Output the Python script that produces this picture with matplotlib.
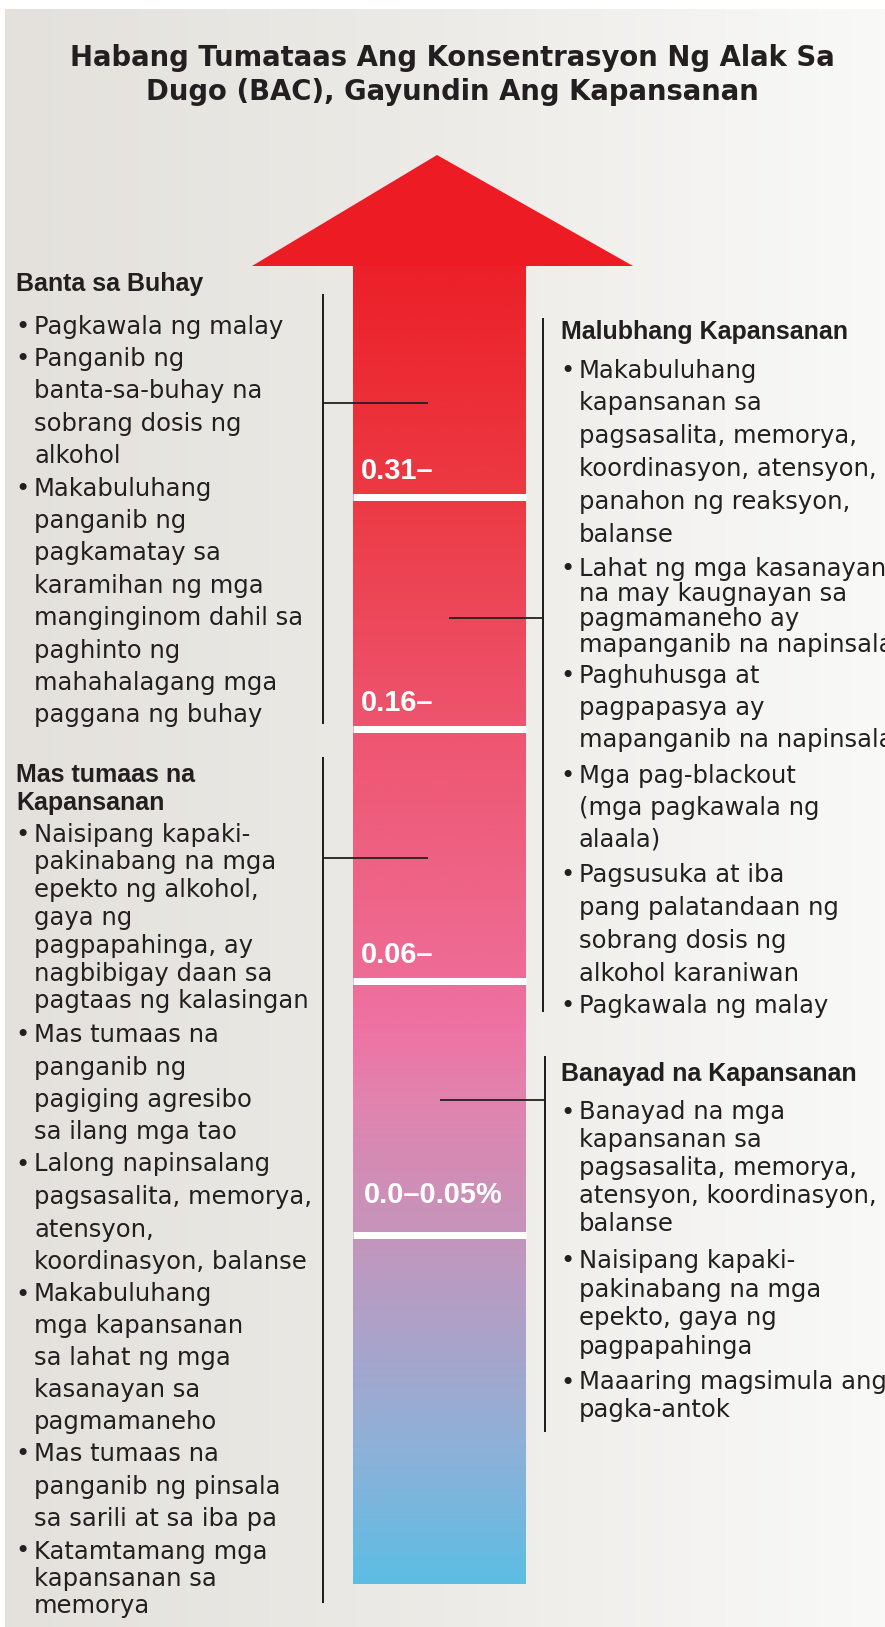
import numpy as np
import matplotlib
matplotlib.use("Agg")
import matplotlib.pyplot as plt
from matplotlib.colors import LinearSegmentedColormap
from matplotlib.patches import Polygon

# ---------------- data ----------------
TITLE = ["Habang Tumataas Ang Konsentrasyon Ng Alak Sa",
         "Dugo (BAC), Gayundin Ang Kapansanan"]

BAC_LABELS = ["0.31–", "0.16–", "0.06–", "0.0–0.05%"]

LIFE_HEADING = ["Banta sa Buhay"]
LIFE_BULLETS = [
    ["Pagkawala ng malay"],
    ["Panganib ng", "banta-sa-buhay na", "sobrang dosis ng", "alkohol"],
    ["Makabuluhang", "panganib ng", "pagkamatay sa", "karamihan ng mga",
     "manginginom dahil sa", "paghinto ng", "mahahalagang mga",
     "paggana ng buhay"],
]

HIGHER_HEADING = ["Mas tumaas na", "Kapansanan"]
HIGHER_BULLETS = [
    ["Naisipang kapaki-", "pakinabang na mga", "epekto ng alkohol,",
     "gaya ng", "pagpapahinga, ay", "nagbibigay daan sa",
     "pagtaas ng kalasingan"],
    ["Mas tumaas na", "panganib ng", "pagiging agresibo", "sa ilang mga tao"],
    ["Lalong napinsalang", "pagsasalita, memorya,", "atensyon,",
     "koordinasyon, balanse"],
    ["Makabuluhang", "mga kapansanan", "sa lahat ng mga", "kasanayan sa",
     "pagmamaneho"],
    ["Mas tumaas na", "panganib ng pinsala", "sa sarili at sa iba pa"],
    ["Katamtamang mga", "kapansanan sa", "memorya"],
]

SEVERE_HEADING = ["Malubhang Kapansanan"]
SEVERE_BULLETS = [
    ["Makabuluhang", "kapansanan sa", "pagsasalita, memorya,",
     "koordinasyon, atensyon,", "panahon ng reaksyon,", "balanse"],
    ["Lahat ng mga kasanayan", "na may kaugnayan sa", "pagmamaneho ay",
     "mapanganib na napinsala"],
    ["Paghuhusga at", "pagpapasya ay", "mapanganib na napinsala"],
    ["Mga pag-blackout", "(mga pagkawala ng", "alaala)"],
    ["Pagsusuka at iba", "pang palatandaan ng", "sobrang dosis ng",
     "alkohol karaniwan"],
    ["Pagkawala ng malay"],
]

MILD_HEADING = ["Banayad na Kapansanan"]
MILD_BULLETS = [
    ["Banayad na mga", "kapansanan sa", "pagsasalita, memorya,",
     "atensyon, koordinasyon,", "balanse"],
    ["Naisipang kapaki-", "pakinabang na mga", "epekto, gaya ng",
     "pagpapahinga"],
    ["Maaaring magsimula ang", "pagka-antok"],
]

# ---------------- layout / style ----------------
W, H = 885, 1627
DPI = 100
PX = 72.0 / DPI          # points per pixel
TXT = "#231f20"

fig = plt.figure(figsize=(W / DPI, H / DPI), dpi=DPI)
fig.patch.set_facecolor("white")
ax = fig.add_axes([0, 0, 1, 1])
ax.axis("off")

# background gradient
bg = LinearSegmentedColormap.from_list("bg", ["#e4e1dc", "#ecebe7", "#f9f9f8"])
ax.imshow(np.linspace(0, 1, 256)[None, :], cmap=bg, aspect="auto",
          extent=(5, W, H, 9), origin="upper", interpolation="bicubic", zorder=0)

# title
for txt, yb in zip(TITLE, [66, 100]):
    ax.text(452, yb, txt, ha="center", va="baseline", color=TXT,
            fontsize=27.5 * PX, fontweight="bold", family=["DejaVu Sans"], zorder=5)

# arrow
shaft_x0, shaft_x1, shaft_y0, shaft_y1 = 353, 526, 266, 1584
head = Polygon([(252, 266), (437, 155), (633, 266)], closed=True,
               facecolor="#ed1c24", edgecolor="none", zorder=2)
ax.add_patch(head)
stops = [(0.0, "#ec2028"), (0.175, "#ec3a44"), (0.351, "#ee5570"),
         (0.48, "#ee6589"), (0.542, "#ee6c98"), (0.58, "#ee73a4"),
         (0.633, "#e183ae"), (0.735, "#c595bb"), (0.822, "#a8a4cb"),
         (0.898, "#8eb1d8"), (1.0, "#5dbde4")]
shaft_cmap = LinearSegmentedColormap.from_list("shaft", stops)
ax.imshow(np.linspace(0, 1, 512)[:, None], cmap=shaft_cmap, aspect="auto",
          extent=(shaft_x0, shaft_x1, shaft_y1, shaft_y0), origin="upper",
          interpolation="bicubic", zorder=2)

band_lines = [497, 729, 981, 1235]
label_base = [479, 711, 963, 1203]
label_x = [361, 361, 361, 364]
for yl, yb, xl, lab in zip(band_lines, label_base, label_x, BAC_LABELS):
    ax.plot([shaft_x0, shaft_x1], [yl, yl], color="white", lw=7 * PX,
            solid_capstyle="butt", zorder=3)
    ax.text(xl, yb, lab, ha="left", va="baseline", color="white",
            fontsize=29 * PX, fontweight="bold",
            family=["Liberation Sans", "DejaVu Sans"], zorder=4)

# connectors
LINE_C = "#231f20"
connectors = [
    # (vx, vy0, vy1, hy, hx0, hx1)
    (323, 294, 724, 403, 323, 428),
    (323, 757, 1603, 858, 323, 428),
    (543, 318, 1012, 618, 449, 543),
    (545, 1056, 1432, 1100, 440, 545),
]
for vx, vy0, vy1, hy, hx0, hx1 in connectors:
    ax.plot([vx, vx], [vy0, vy1], color=LINE_C, lw=2.0 * PX, zorder=4,
            solid_capstyle="butt")
    ax.plot([hx0, hx1], [hy, hy], color=LINE_C, lw=1.8 * PX, zorder=4,
            solid_capstyle="butt")

# text sections
BODY_FS = 24.3 * PX
HEAD_FS = 25 * PX
OFF = 8.5


def draw_section(x, heading, head_y, bullets, starts, gaps):
    for txt, yc in zip(heading, head_y):
        ax.text(x, yc + OFF, txt, ha="left", va="baseline", color=TXT,
                fontsize=HEAD_FS, fontweight="bold",
                family=["Liberation Sans", "DejaVu Sans"], zorder=5)
    for lines, y0, g in zip(bullets, starts, gaps):
        ax.text(x - 1, y0 + OFF, "•", ha="left", va="baseline", color=TXT,
                fontsize=BODY_FS, family=["DejaVu Sans"], zorder=5)
        for i, ln in enumerate(lines):
            ax.text(x + 18, y0 + OFF + i * g, ln, ha="left", va="baseline",
                    color=TXT, fontsize=BODY_FS, family=["DejaVu Sans"],
                    zorder=5, clip_on=False)


draw_section(16, LIFE_HEADING, [282], LIFE_BULLETS,
             [325, 357.5, 487], [32.4, 32.4, 32.4])
draw_section(16, HIGHER_HEADING, [773, 801], HIGHER_BULLETS,
             [833, 1034, 1163, 1293, 1452.5, 1550],
             [27.8, 32.2, 32.5, 31.8, 32.7, 27.5])
draw_section(561, SEVERE_HEADING, [330], SEVERE_BULLETS,
             [369, 567.5, 674, 774, 873.6, 1004],
             [32.8, 25.2, 32.3, 32.0, 32.8, 32.0])
draw_section(561, MILD_HEADING, [1072], MILD_BULLETS,
             [1111, 1259.5, 1381], [27.8, 28.7, 28.0])

ax.set_xlim(0, W)
ax.set_ylim(H, 0)
fig.savefig("out.png", dpi=DPI, facecolor="white")
